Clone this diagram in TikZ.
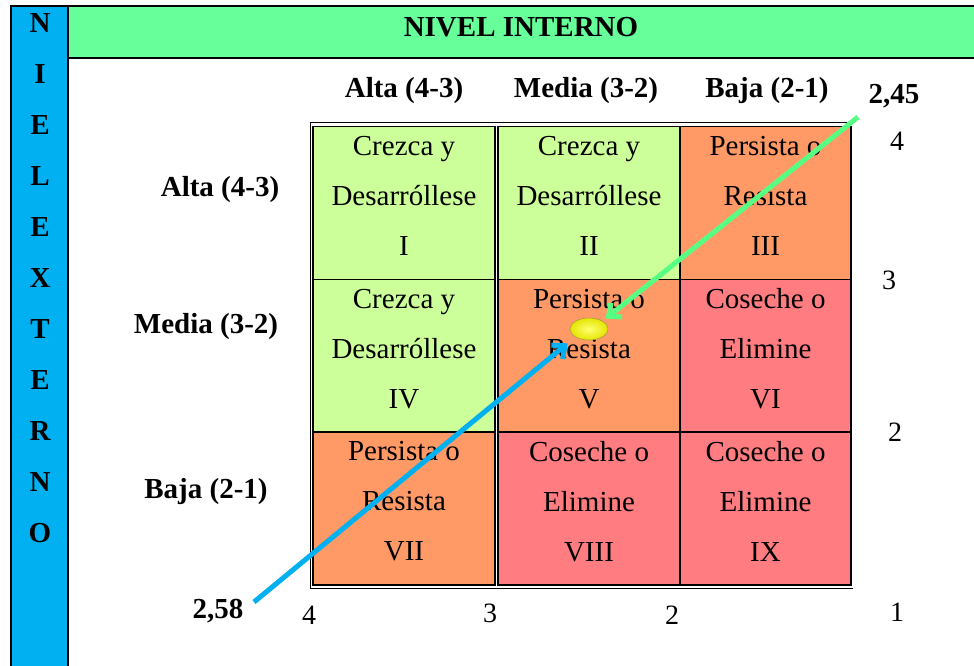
\documentclass[tikz,border=0pt]{standalone}
\usepackage{fontspec}
\setmainfont{Liberation Serif}
\usetikzlibrary{arrows.meta,shapes.geometric}
\definecolor{azul}{HTML}{00B0F0}
\definecolor{verdecab}{HTML}{66FF99}
\definecolor{verdecl}{HTML}{CCFF99}
\definecolor{naranja}{HTML}{FF9966}
\definecolor{rojo}{HTML}{FF7C80}
\newcommand{\celda}[6]{%
  \node[caja,fill=#5,minimum width=#4] (#1) at (#2,#3) {};
  \node[texto] (t#1) at ([yshift=3.5pt]#1.center) {#6};
}

\begin{document}
\begin{tikzpicture}[x=0.5pt,y=-0.5pt,
  every node/.style={font=\fontsize{14.5}{25}\selectfont},
  negrita/.style={font=\fontsize{14.5}{25}\selectfont\bfseries},
  numero/.style={font=\fontsize{14}{16}\selectfont},
  caja/.style={draw,line width=0.9pt,minimum height=76.5pt,inner sep=0pt},
  texto/.style={align=center,inner sep=0pt}]
  \useasboundingbox (0,0) rectangle (974,665);
  \clip (0,0) rectangle (974,665);
  % marco
  \draw[line width=1.2pt,fill=azul] (11,6) rectangle (68,680);
  \draw[line width=1.2pt,fill=verdecab] (68,6) rectangle (990,58);
  \node[negrita] (cab) at (521,27) {NIVEL INTERNO};
  \foreach \l [count=\i] in {N,I,E,L,E,X,T,E,R,N,O} {
    \node[negrita] (l\i) at (40,{23+51*(\i-1)}) {\l};
  }
  % encabezados
  \node[negrita] (ca) at (404,91) {Alta (4-3)};
  \node[negrita] (cm) at (586,91) {Media (3-2)};
  \node[negrita] (cb) at (767,91) {Baja (2-1)};
  \node[negrita] (fa) at (220,190) {Alta (4-3)};
  \node[negrita] (fm) at (206,327) {Media (3-2)};
  \node[negrita] (fb) at (206,492) {Baja (2-1)};
  % matriz
  \draw[line width=0.5pt] (853,588) -- (310,588) -- (310,122) -- (853,122);
  \celda{c1}{404}{203}{91pt}{verdecl}{Crezca y\\Desarróllese\\I}
  \celda{c2}{589}{203}{91pt}{verdecl}{Crezca y\\Desarróllese\\II}
  \celda{c3}{765.5}{203}{85.5pt}{naranja}{Persista o\\Resista\\III}
  \celda{c4}{404}{356}{91pt}{verdecl}{Crezca y\\Desarróllese\\IV}
  \celda{c5}{589}{356}{91pt}{naranja}{Persista o\\Resista\\V}
  \celda{c6}{765.5}{356}{85.5pt}{rojo}{Coseche o\\Elimine\\VI}
  \celda{c7}{404}{508.5}{91pt}{naranja}{Persista o\\Resista\\VII}
  \celda{c8}{589}{508.5}{91pt}{rojo}{Coseche o\\Elimine\\VIII}
  \celda{c9}{765.5}{508.5}{85.5pt}{rojo}{Coseche o\\Elimine\\IX}
  % escalas
  \foreach \n/\t/\x/\y in {b4/4/309/615,b3/3/490/613,b2/2/672/615,b1/1/897/612,
    d4/4/897/141,d3/3/889/280,d2/2/895/432} {
    \node[numero] (\n) at (\x,\y) {\t};
  }
  \node[negrita] (v45) at (894,96) {2,45};
  \node[negrita] (v58) at (218,611) {2,58};
  % resultado
  \node[ellipse,minimum width=19pt,minimum height=11pt,inner sep=0pt,
    draw=yellow!60!black,line width=0.3pt,
    inner color=yellow!55!white,outer color=yellow!90!black] (punto) at (589,329) {};
  \coordinate (ini58) at (254,602);
  \coordinate (ini45) at (858,117);
  \draw[azul,line width=2.5pt,-{Straight Barb[length=5pt,width=9pt]},shorten >=5pt]
    (ini58) -- (punto.south west);
  \draw[verdecab!85!green,line width=2.5pt,-{Straight Barb[length=5pt,width=9pt]},shorten >=2pt]
    (ini45) -- (punto.north east);
\end{tikzpicture}
\end{document}
